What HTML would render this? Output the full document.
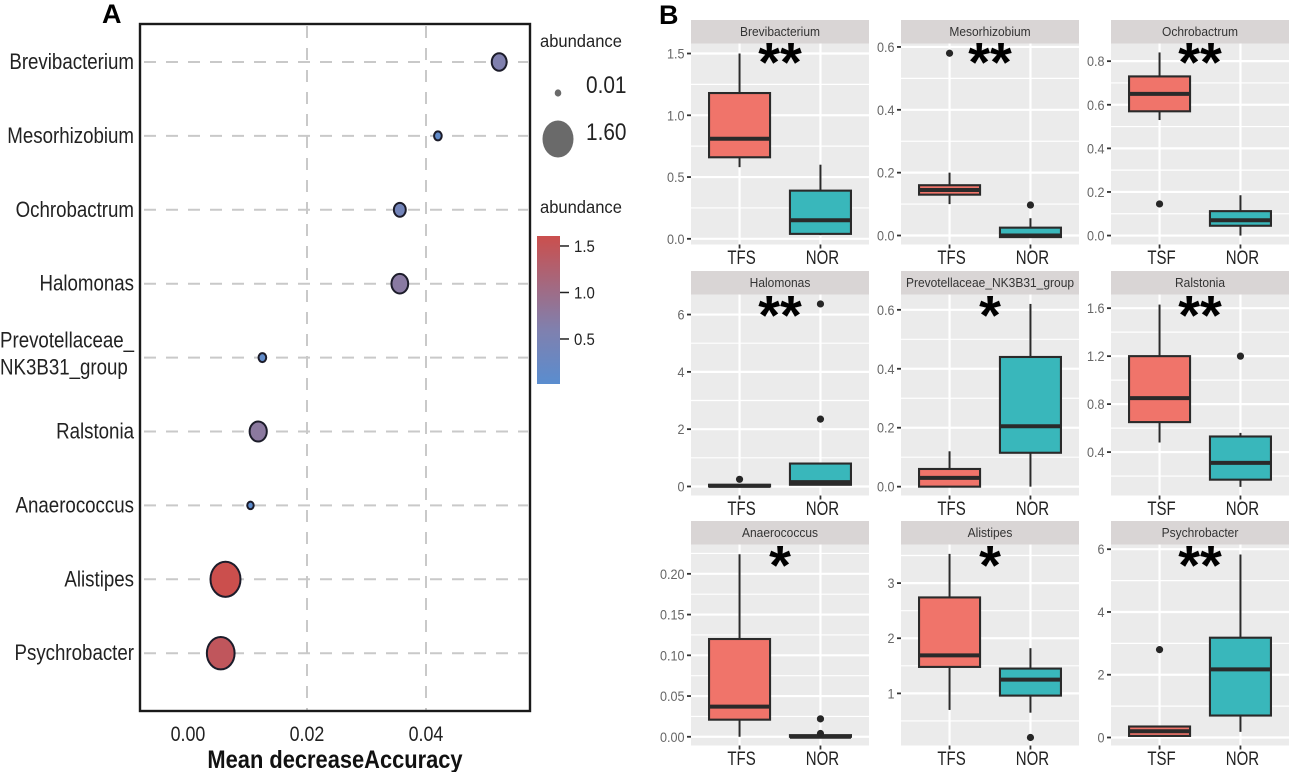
<!DOCTYPE html>
<html lang="en">
<head>
<meta charset="utf-8">
<title>Mean decrease accuracy and abundance box plots</title>
<style>
html,body{margin:0;padding:0;background:#fff;}
svg{display:block;font-family:"Liberation Sans",sans-serif;filter:blur(.35px);}
</style>
</head>
<body>
<svg id="fig" xmlns="http://www.w3.org/2000/svg" width="1289" height="772" viewBox="0 0 1289 772">
  <defs>
    <linearGradient id="cbar" x1="0" y1="1" x2="0" y2="0">
      <stop offset="0" stop-color="#5a8dcf"/>
      <stop offset="0.37" stop-color="#8080ae"/>
      <stop offset="1" stop-color="#cb4f4d"/>
    </linearGradient>
  </defs>
  <rect x="0" y="0" width="1289" height="772" fill="#fff"/>
  <text x="102" y="23" font-size="27" font-weight="bold" fill="#000">A</text>
  <text x="659" y="24" font-size="27" font-weight="bold" fill="#000">B</text>
  <g id="dot"></g>
  <rect x="140" y="24" width="390" height="687" fill="none" stroke="#1a1a1a" stroke-width="2.4"/>
  <text transform="translate(335 768) scale(.875 1)" text-anchor="middle" font-size="25" font-weight="bold" fill="#111">Mean decreaseAccuracy</text>
  <text transform="translate(540 47) scale(.92 1)" font-size="18" fill="#222">abundance</text>
  <ellipse cx="558" cy="93" rx="3.3" ry="3.6" fill="#6a6a6a"/>
  <text transform="translate(586 93) scale(.85 1)" font-size="24.5" fill="#222">0.01</text>
  <ellipse cx="558" cy="139" rx="15.5" ry="18.5" fill="#6a6a6a"/>
  <text transform="translate(586 140) scale(.85 1)" font-size="24.5" fill="#222">1.60</text>
  <text transform="translate(540 213) scale(.92 1)" font-size="18" fill="#222">abundance</text>
  <rect x="537" y="236" width="23" height="148" fill="url(#cbar)"/>
  <g id="cbarTicks"></g>
  <g id="facets"></g>
</svg>
<script>
// Panel A data
const dotTaxa = ["Brevibacterium","Mesorhizobium","Ochrobactrum","Halomonas","Prevotellaceae_|NK3B31_group","Ralstonia","Anaerococcus","Alistipes","Psychrobacter"];
const dotAccuracy = [0.0523,0.042,0.0356,0.0356,0.0125,0.0118,0.0105,0.0063,0.0055];
const dotAbundance = [0.6,0.12,0.4,0.72,0.12,0.75,0.04,1.6,1.45];
const dotXTicks = ["0.00","0.02","0.04"];
const dotGridValues = [0.02,0.04];
const colorTicks = [1.5,1.0,0.5];

// Panel B data
const facetNames = ["Brevibacterium","Mesorhizobium","Ochrobactrum","Halomonas","Prevotellaceae_NK3B31_group","Ralstonia","Anaerococcus","Alistipes","Psychrobacter"];
const facetGroups = [["TFS","NOR"],["TFS","NOR"],["TSF","NOR"],["TFS","NOR"],["TFS","NOR"],["TSF","NOR"],["TFS","NOR"],["TFS","NOR"],["TSF","NOR"]];
const facetStars = ["**","**","**","**","*","**","*","*","**"];
const yMin = [-0.046,-0.0286,-0.041,-0.315,-0.03,0.038,-0.0107,0.055,-0.255];
const yMax = [1.581,0.611,0.881,6.7,0.652,1.714,0.236,3.7,6.15];
const yTicks = [
  ["0.0","0.5","1.0","1.5"],["0.0","0.2","0.4","0.6"],["0.0","0.2","0.4","0.6","0.8"],
  ["0","2","4","6"],["0.0","0.2","0.4","0.6"],["0.4","0.8","1.2","1.6"],
  ["0.00","0.05","0.10","0.15","0.20"],["1","2","3"],["0","2","4","6"]
];
const q1 = [[0.66,0.04],[0.13,-0.005],[0.57,0.045],[0,0.06],[0,0.115],[0.65,0.17],[0.021,0],[1.48,0.96],[0.05,0.7]];
const median = [[0.81,0.15],[0.145,0],[0.65,0.07],[0.02,0.15],[0.03,0.205],[0.85,0.31],[0.037,0],[1.69,1.25],[0.2,2.17]];
const q3 = [[1.18,0.39],[0.16,0.025],[0.73,0.112],[0.06,0.8],[0.06,0.44],[1.2,0.53],[0.12,0.002],[2.74,1.45],[0.35,3.18]];
const whiskerLow = [[0.58,0.03],[0.1,-0.005],[0.53,0],[0,0.05],[0,0],[0.48,0.11],[0,0],[0.7,0.65],[0.05,0.18]];
const whiskerHigh = [[1.5,0.6],[0.2,0.055],[0.84,0.185],[0.06,0.8],[0.12,0.62],[1.63,0.56],[0.224,0.002],[3.53,1.82],[0.37,5.83]];
const outliers = [[[],[]],[[0.58],[0.097]],[[0.145],[]],[[0.25],[2.35,6.37]],[[],[]],[[],[1.2]],[[],[0.022,0.004]],[[],[0.2]],[[2.8],[]]];

const NS = "http://www.w3.org/2000/svg";
function mk(tag, parent){
  const e = document.createElementNS(NS, tag);
  parent.appendChild(e);
  return e;
}
function set(e, o){ for(const k in o) e.setAttribute(k, o[k]); return e; }

// ---- Panel A ----
const dotX = v => 188 + v * 5950;
const dotY = i => 62 + i * 73.9;
const sizeR = a => 3 + (a - 0.01) / 1.59 * 12;
function abColor(a){
  const t = Math.min(1, Math.max(0, (a - 0.01) / 1.59));
  const A = [90,141,207], M = [128,128,174], B = [203,79,77];
  const P = t < .37 ? A : M, Q = t < .37 ? M : B, u = t < .37 ? t / .37 : (t - .37) / .63;
  return "rgb(" + P.map((c, i) => Math.round(c + (Q[i] - c) * u)).join(",") + ")";
}
const dot = document.getElementById("dot");
dotGridValues.forEach(v => {
  const l = mk("line", dot);
  
  
  set(l, {x1: dotX(v), x2: dotX(v), y1: 26, y2: 710, stroke: "#c9c9c9", "stroke-width": 2, "stroke-dasharray": "12 10"});
});
dotTaxa.forEach((name, i) => {
  const y = dotY(i);
  const l = mk("line", dot);
  
  
  set(l, {x1: 144, x2: 528, y1: y, y2: y, stroke: "#c9c9c9", "stroke-width": 2, "stroke-dasharray": "12 10"});
  const parts = name.split("|");
  parts.forEach((p, k) => {
    const t = mk("text", dot);
    
    
    const ty = parts.length > 1 ? y - 10 + k * 27 : y + 7;
    set(t, {transform: "translate(" + (parts.length > 1 ? 0 : 134) + " " + ty + ") scale(.85 1)", "text-anchor": parts.length > 1 ? "start" : "end", "font-size": 22, fill: "#222"});
    t.textContent = p;
  });
  const r = sizeR(dotAbundance[i]);
  const c = mk("ellipse", dot);
  
  
  set(c, {cx: dotX(dotAccuracy[i]), cy: y, rx: r, ry: r * 1.17, fill: abColor(dotAbundance[i]), stroke: "#1c1c2a", "stroke-width": 2});
});
dotXTicks.forEach(s => {
  const t = mk("text", dot);
  
  
  set(t, {transform: "translate(" + dotX(parseFloat(s)) + " 741) scale(.85 1)", "text-anchor": "middle", "font-size": 21, fill: "#222"});
  t.textContent = s;
});
const cbarG = document.getElementById("cbarTicks");
colorTicks.forEach(v => {
  const y = 384 - (v - 0.016) / 0.5 * 46.5;
  const l = mk("line", cbarG);
  
  
  set(l, {x1: 560, x2: 569, y1: y, y2: y, stroke: "#222", "stroke-width": 1.5});
  const t = mk("text", cbarG);
  
  
  set(t, {transform: "translate(574 " + (y + 6) + ") scale(.88 1)", "font-size": 17, fill: "#222"});
  t.textContent = v.toFixed(1);
});

// ---- Panel B ----
const colX = [691, 901, 1111];
const rowY = [20, 271, 521];
const stripH = 23.5, panelH = 201, panelW = 178;
const fills = ["#f0746a", "#39b7bb"];
const root = document.getElementById("facets");

facetNames.forEach((name, f) => {
  const row = Math.floor(f / 3);
  const px = colX[f % 3], top = rowY[row] + stripH, bot = top + panelH;
  const Y = v => bot - (v - yMin[f]) / (yMax[f] - yMin[f]) * panelH;
  const xc = g => px + panelW * (0.6 + g) / 2.2;

  const G = mk("g", root);
  
  

  const strip = mk("rect", G);
  
  
  set(strip, {x: px, y: top - stripH, width: panelW, height: stripH, fill: "#d9d5d5"});

  const st = mk("text", G);
  
  
  set(st, {transform: "translate(" + (px + panelW / 2) + " " + (top - 7.5) + ") scale(.96 1)", "text-anchor": "middle", "font-size": 12.5, fill: "#333"});
  st.textContent = name;

  const bg = mk("rect", G);
  
  
  set(bg, {x: px, y: top, width: panelW, height: panelH, fill: "#ebebeb"});

  const ticks = yTicks[f].map(Number);
  const step = ticks[1] - ticks[0];
  for (let m = ticks[0] - step / 2; m <= yMax[f]; m += step) {
    if (m < yMin[f]) continue;
    const l = mk("line", G);
    
    
    set(l, {x1: px, x2: px + panelW, y1: Y(m), y2: Y(m), stroke: "#fff", "stroke-width": 1.2});
  }
  yTicks[f].forEach(s => {
    const v = Number(s), y = Y(v);
    const l = mk("line", G);
    
    
    set(l, {x1: px, x2: px + panelW, y1: y, y2: y, stroke: "#fff", "stroke-width": 2.2});
    const tk = mk("line", G);
    
    
    set(tk, {x1: px - 4, x2: px, y1: y, y2: y, stroke: "#333", "stroke-width": 1.8});
    const t = mk("text", G);
    
    
    set(t, {transform: "translate(" + (px - 6.5) + " " + (y + 5) + ") scale(.9 1)", "text-anchor": "end", "font-size": 14, fill: "#666"});
    t.textContent = s;
  });

  facetGroups[f].forEach((label, g) => {
    const x = xc(g);
    const vg = mk("line", G);
    
    
    set(vg, {x1: x, x2: x, y1: top, y2: bot, stroke: "#fff", "stroke-width": 2.2});
    const tk = mk("line", G);
    
    
    set(tk, {x1: x, x2: x, y1: bot, y2: bot + 4, stroke: "#333", "stroke-width": 1.8});
    const t = mk("text", G);
    
    
    set(t, {transform: "translate(" + (x + 2) + " " + (bot + 19.5) + ") scale(.77 1)", "text-anchor": "middle", "font-size": 19.5, fill: "#222"});
    t.textContent = label;
  });

  facetGroups[f].forEach((label, g) => {
    const x = xc(g), bw = 61;
    const w = mk("line", G);
    
    
    set(w, {x1: x, x2: x, y1: Y(q3[f][g]), y2: Y(whiskerHigh[f][g]), stroke: "#2a2a2a", "stroke-width": 2});
    const w2 = mk("line", G);
    
    
    set(w2, {x1: x, x2: x, y1: Y(q1[f][g]), y2: Y(whiskerLow[f][g]), stroke: "#2a2a2a", "stroke-width": 2});
    const b = mk("rect", G);
    
    
    set(b, {x: x - bw / 2, y: Y(q3[f][g]), width: bw, height: Math.max(0, Y(q1[f][g]) - Y(q3[f][g])), fill: fills[g], stroke: "#2a2a2a", "stroke-width": 2.1});
    const md = mk("line", G);
    
    
    set(md, {x1: x - bw / 2, x2: x + bw / 2, y1: Y(median[f][g]), y2: Y(median[f][g]), stroke: "#2a2a2a", "stroke-width": 4});
    outliers[f][g].forEach(v => {
      const o = mk("ellipse", G);
      
      
      set(o, {cx: x, cy: Y(v), rx: 3.6, ry: 3.6, fill: "#262626"});
    });
  });

  const sig = mk("text", G);
  
  
  set(sig, {x: px + panelW / 2, y: top + (row === 0 ? 38 : 40), "text-anchor": "middle", "font-size": 56, "font-weight": "bold", fill: "#000"});
  sig.textContent = facetStars[f];
});
</script>
</body>
</html>
